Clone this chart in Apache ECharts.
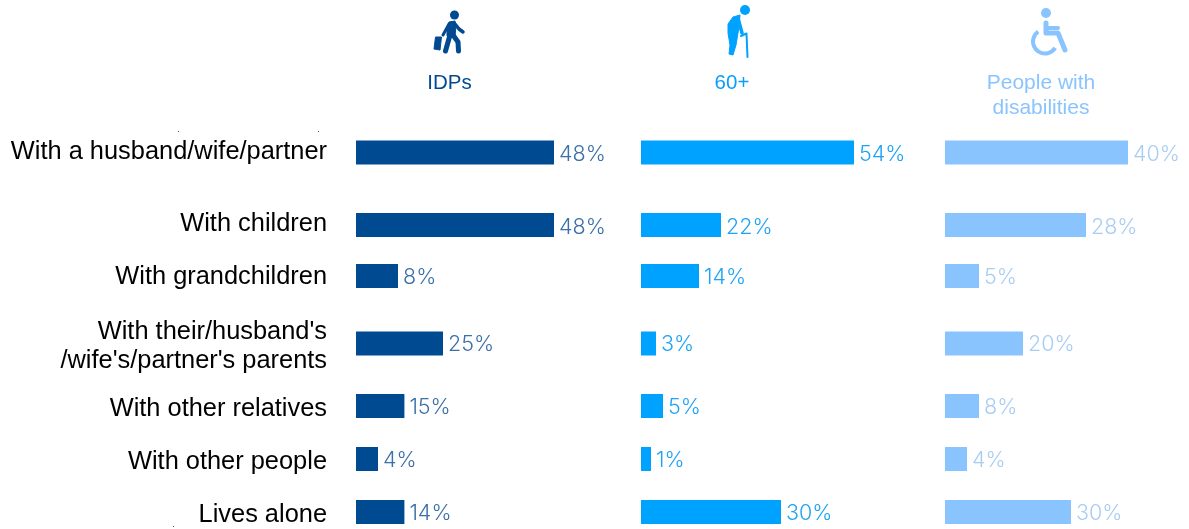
<!DOCTYPE html>
<html>
<head>
<meta charset="utf-8">
<style>html,body{margin:0;padding:0;background:#fff}#chart{width:1189px;height:529px}</style>
<script src="https://cdn.jsdelivr.net/npm/echarts@6/dist/echarts.min.js"></script>
</head>
<body>
<div id="chart"></div>
<script>
const categories = ['With a husband/wife/partner', 'With children', 'With grandchildren', "With their/husband's\n/wife's/partner's parents", 'With other relatives', 'With other people', 'Lives alone'];
const groupNames = ['IDPs', '60+', 'People with\ndisabilities'];

// the printed labels
const idpsLabels = [48, 48, 8, 25, 15, 4, 14];
const olderLabels = [54, 22, 14, 3, 5, 1, 30];
const disabledLabels = [40, 28, 5, 20, 8, 4, 30];

// bar lengths as drawn, the source bars are not to scale with their labels
const idpsBars = [49.5, 49.5, 10.5, 21.75, 12.1, 5.5, 12.1];
const olderBars = [53.25, 20, 14.5, 3.75, 5.5, 2.5, 35];
const disabledBars = [45.75, 35.25, 8.5, 19.5, 8.5, 5.5, 31.5];

const colors = ['#004a91', '#00a2ff', '#8ac4ff'];
const labelColors = ['#3b70a8', '#1ea3f5', '#a9cdf2'];
const titleColors = ['#004a91', '#0a9dfa', '#8ac4ff'];
const titleSizes = [20.5, 20.5, 21];
const columnLeft = [356, 641, 945];
const titleCenter = [449.5, 732, 1041];
const rowCenter = [152.5, 225, 276, 343.5, 406, 459, 512];
// text sits a little off the bar centre in the source
const nameShift = [-1, -1, 1, 2.5, 3, 3, 3];
const valueShift = [2, 3, 1.5, 1, 1.5, 1.5, 1.5];
const barsByColumn = [idpsBars, olderBars, disabledBars];
const labelsByColumn = [idpsLabels, olderLabels, disabledLabels];

const grid = [], xAxis = [], yAxis = [], series = [];
columnLeft.forEach((left, c) => {
  rowCenter.forEach((center, r) => {
    const idx = grid.length;
    grid.push({left: left, top: center - 12, width: 240, height: 24});
    xAxis.push({gridIndex: idx, type: 'value', min: 0, max: 60, show: false});
    yAxis.push({gridIndex: idx, type: 'category', data: [categories[r]], show: false});
    series.push({
      type: 'bar',
      xAxisIndex: idx,
      yAxisIndex: idx,
      data: [barsByColumn[c][r]],
      barWidth: 24,
      silent: true,
      itemStyle: {color: colors[c]},
      label: {
        show: true,
        position: 'right',
        distance: 5,
        offset: [0, valueShift[r]],
        formatter: labelsByColumn[c][r] + '%',
        color: labelColors[c],
        fontFamily: 'Inter',
        fontWeight: 300,
        fontSize: 21.5
      }
    });
  });
});

// row names get their own empty grids so they can sit off the bar centre
rowCenter.forEach((center, r) => {
  const idx = grid.length;
  grid.push({left: columnLeft[0], top: center - 12 + nameShift[r], width: 240, height: 24});
  xAxis.push({gridIndex: idx, type: 'value', min: 0, max: 60, show: false});
  yAxis.push({
    gridIndex: idx,
    type: 'category',
    data: [categories[r]],
    axisLine: {show: false},
    axisTick: {show: false},
    axisLabel: {
      margin: 29,
      color: '#000',
      fontFamily: 'Liberation Sans',
      fontSize: 25.4,
      lineHeight: 29,
      align: 'right'
    }
  });
});

const title = groupNames.map((name, i) => ({
  text: name,
  left: titleCenter[i],
  top: 71,
  padding: 0,
  textAlign: 'center',
  textStyle: {color: titleColors[i], fontFamily: 'Liberation Sans', fontWeight: 'normal', fontSize: titleSizes[i], lineHeight: 25}
}));

const limb = (points, color, width) => ({
  type: 'polyline',
  shape: {points: points},
  style: {stroke: color, fill: null, lineWidth: width, lineCap: 'round', lineJoin: 'round'}
});
const blob = (points, color) => ({type: 'polygon', shape: {points: points}, style: {fill: color, stroke: color, lineWidth: 1, lineJoin: 'round'}});
const head = (cx, cy, r, color) => ({type: 'circle', shape: {cx: cx, cy: cy, r: r}, style: {fill: color}});
const speck = (x, y) => ({type: 'rect', shape: {x: x, y: y, width: 1, height: 1}, style: {fill: '#555'}});

const icons = [
  // traveller
  head(454.5, 15, 4.5, colors[0]),
  blob([[449, 22], [455, 21], [456, 26], [455, 36], [447, 36], [447, 27]], colors[0]),
  limb([[450, 35], [445.5, 51]], colors[0], 5),
  limb([[453, 35], [458, 42], [458.5, 51]], colors[0], 5),
  limb([[449, 24], [443, 35]], colors[0], 3),
  limb([[455, 24], [459, 29], [463, 32]], colors[0], 3.5),
  blob([[435.5, 37], [441.5, 37], [440, 50], [434, 49]], colors[0]),
  // older person
  head(745, 10, 5, colors[1]),
  blob([[740, 15], [733, 17], [728, 24], [728, 33], [730, 45], [729, 54], [733, 55], [736, 45], [738, 33], [739, 26]], colors[1]),
  limb([[738, 18], [742, 33]], colors[1], 3.5),
  limb([[741, 36], [746.5, 33.5], [747.5, 57]], colors[1], 2),
  // wheelchair
  head(1046, 13, 5, colors[2]),
  limb([[1046, 23], [1046, 33], [1058, 33], [1065, 50]], colors[2], 5),
  limb([[1046, 28], [1058, 28]], colors[2], 4),
  {
    type: 'arc',
    shape: {cx: 1045, cy: 41.5, r: 12, startAngle: Math.PI * 0.18, endAngle: Math.PI * 1.31, clockwise: true},
    style: {stroke: colors[2], fill: null, lineWidth: 4}
  },
  // stray marks in the source image
  speck(178, 131), speck(318, 131), speck(173, 526)
];

const chart = echarts.init(document.getElementById('chart'), null, {renderer: 'canvas'});
chart.setOption({
  animation: false,
  backgroundColor: '#fff',
  title: title,
  grid: grid,
  xAxis: xAxis,
  yAxis: yAxis,
  series: series,
  graphic: icons
});
</script>
</body>
</html>
